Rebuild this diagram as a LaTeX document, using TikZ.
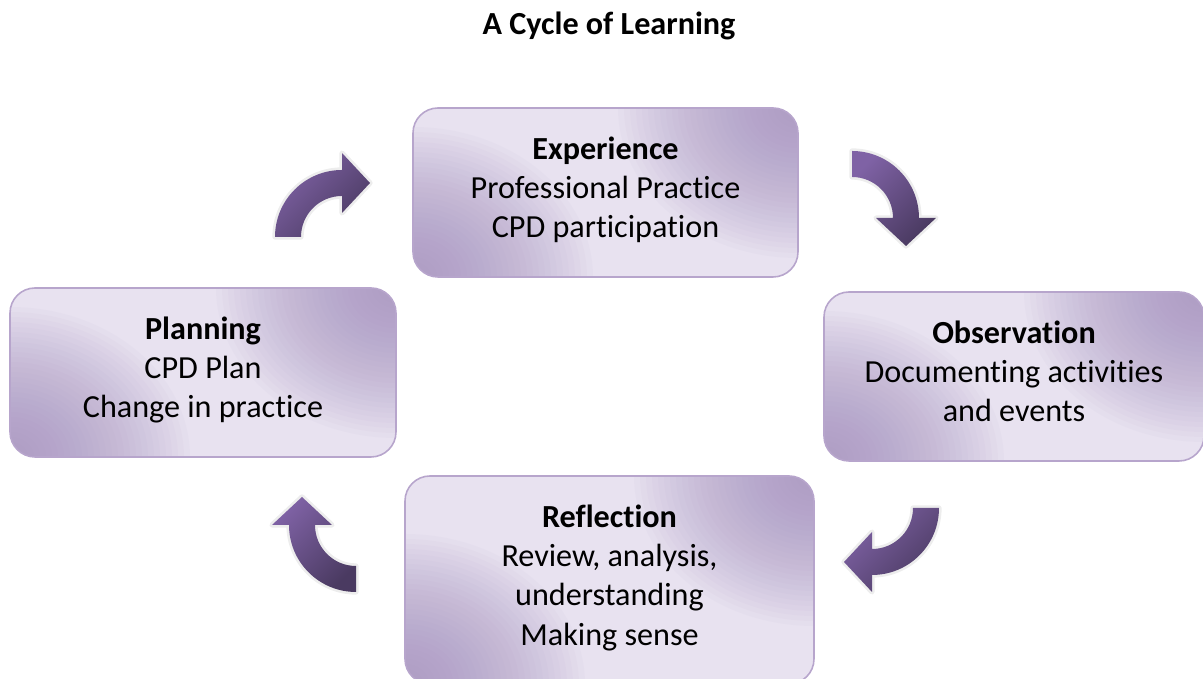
\documentclass[tikz,border=0pt]{standalone}
\usepackage{fontspec}
\setmainfont{Carlito}[Ligatures=NoCommon]
\definecolor{boxlight}{HTML}{E8E2F0}
\definecolor{boxdark}{HTML}{A28DBD}
\definecolor{boxline}{HTML}{B7A5CC}
\definecolor{arrowlight}{HTML}{7F62A5}
\definecolor{arrowdark}{HTML}{4A3A61}
\tikzset{
    stagebox/.style = {rectangle, rounded corners=0.5cm, draw=boxline, line width=0.9pt, fill=boxlight,
        path picture={
            \foreach \k in {1,...,30} {
                \fill[boxdark, fill opacity=0.045] (path picture bounding box.north east) ellipse [x radius=0.12*\k, y radius=0.1*\k];
                \fill[boxdark, fill opacity=0.045] (path picture bounding box.south west) ellipse [x radius=0.12*\k, y radius=0.1*\k];
            }
        },
        align=center, minimum width=7.7cm, minimum height=3.38cm, text depth=0.2cm, font=\fontsize{18.3}{22.3}\selectfont},
    arrowfill/.style = {top color=arrowlight, bottom color=arrowdark, shading angle=45, preaction={draw=black!7, line width=3pt, line join=round}},
    pics/turnarrow/.style = {code={
        \shade[arrowfill] (-1.34,0) arc[start angle=180, end angle=90, radius=1.34]
            -- (0,1.68) -- (0.56,1.08) -- (0,0.48) -- (0,0.82)
            arc[start angle=90, end angle=180, radius=0.82] -- cycle;
    }}
}
\begin{document}
\begin{tikzpicture}
\useasboundingbox (0,0) rectangle (24.06,13.58);
\node[font=\fontsize{18.3}{22}\selectfont\bfseries] (title) at (12.18,13.06) {A Cycle of Learning};
%
\node[stagebox] (exp) at (12.11,9.73) {\textbf{Experience}\\Professional Practice\\CPD participation};
\node[stagebox, minimum width=7.6cm] (obs) at (20.28,6.05) {\textbf{Observation}\\Documenting activities\\and events};
\node[stagebox, minimum width=8.18cm, minimum height=4.16cm] (refl) at (12.19,1.98) {\textbf{Reflection}\\Review, analysis,\\understanding\\Making sense};
\node[stagebox, minimum width=7.72cm] (plan) at (4.06,6.13) {\textbf{Planning}\\CPD Plan\\Change in practice};
%
\coordinate (t1) at (6.84,8.84);
\coordinate (t2) at (17.04,9.22);
\coordinate (t3) at (17.44,3.42);
\coordinate (t4) at (7.12,3.08);
\pic at (t1) {turnarrow};
\pic[rotate=-90] at (t2) {turnarrow};
\pic[rotate=180] at (t3) {turnarrow};
\pic[rotate=90] at (t4) {turnarrow};
\end{tikzpicture}
\end{document}
